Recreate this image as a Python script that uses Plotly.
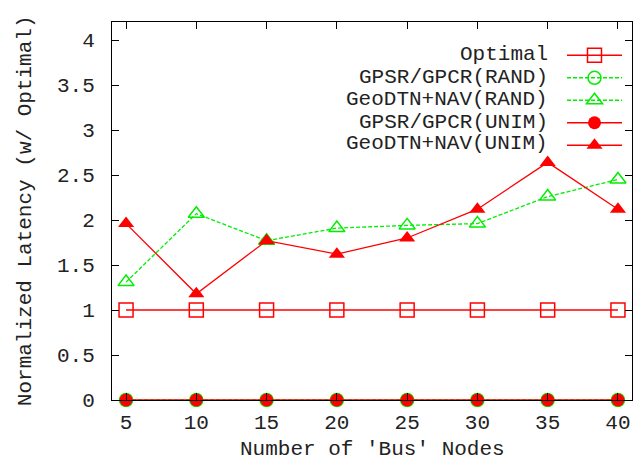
import plotly.graph_objects as go

nodes = [5, 10, 15, 20, 25, 30, 35, 40]
optimal = [1, 1, 1, 1, 1, 1, 1, 1]
gpsr_rand = [0, 0, 0, 0, 0, 0, 0, 0]
geodtn_rand = [1.31, 2.07, 1.77, 1.91, 1.94, 1.96, 2.26, 2.45]
gpsr_unim = [0, 0, 0, 0, 0, 0, 0, 0]
geodtn_unim = [1.96, 1.18, 1.77, 1.62, 1.80, 2.12, 2.64, 2.12]

names = ["Optimal", "GPSR/GPCR(RAND)", "GeoDTN+NAV(RAND)",
         "GPSR/GPCR(UNIM)", "GeoDTN+NAV(UNIM)"]

RED = "#ff0000"
GREEN = "#00ee00"
FONT = "Liberation Mono"
TEXT = "#222222"

fig = go.Figure()

fig.add_trace(go.Scatter(
    x=nodes, y=optimal, mode="lines+markers", name="",
    line=dict(color=RED, width=1.3),
    marker=dict(symbol="square-open", size=14, color=RED, line=dict(width=1.5)),
    cliponaxis=False
))
fig.add_trace(go.Scatter(
    x=nodes, y=gpsr_rand, mode="lines+markers", name="",
    line=dict(color=GREEN, width=1.3, dash="4px,2px"),
    marker=dict(symbol="circle-open", size=13, color=GREEN, line=dict(width=1.5)),
    cliponaxis=False
))
fig.add_trace(go.Scatter(
    x=nodes, y=geodtn_rand, mode="lines+markers", name="",
    line=dict(color=GREEN, width=1.3, dash="4px,2px"),
    marker=dict(symbol="triangle-up-open", size=14, color=GREEN, line=dict(width=1.5)),
    cliponaxis=False
))
fig.add_trace(go.Scatter(
    x=nodes, y=gpsr_unim, mode="lines+markers", name="",
    line=dict(color=RED, width=1.3),
    marker=dict(symbol="circle", size=13, color=RED),
    cliponaxis=False
))
fig.add_trace(go.Scatter(
    x=nodes, y=geodtn_unim, mode="lines+markers", name="",
    line=dict(color=RED, width=1.3),
    marker=dict(symbol="triangle-up", size=14, color=RED),
    cliponaxis=False
))

# legend text goes left of the samples, gnuplot style
rows = [0.915, 0.854, 0.796, 0.735, 0.678]
for name, y in zip(names, rows):
    fig.add_annotation(
        x=0.843, y=y, xref="paper", yref="paper", text=name,
        xanchor="right", yanchor="middle", showarrow=False,
        font=dict(family=FONT, size=21, color=TEXT)
    )

# axis titles
fig.add_annotation(
    x=0.5, y=-0.13, xref="paper", yref="paper",
    text="Number of 'Bus' Nodes", showarrow=False,
    xanchor="center", yanchor="middle",
    font=dict(family=FONT, size=21, color=TEXT)
)
fig.add_annotation(
    x=-0.167, y=0.5, xref="paper", yref="paper",
    text="Normalized Latency (w/ Optimal)", showarrow=False, textangle=-90,
    xanchor="center", yanchor="middle",
    font=dict(family=FONT, size=21, color=TEXT)
)

fig.update_layout(
    width=625,
    height=449,
    plot_bgcolor="white",
    paper_bgcolor="white",
    font=dict(family=FONT, size=21, color=TEXT),
    margin=dict(l=104, r=1, t=14, b=57, autoexpand=False),
    showlegend=True,
    legend=dict(
        x=1.0, y=0.955, xanchor="right", yanchor="top",
        bgcolor="rgba(0,0,0,0)", borderwidth=0,
        itemwidth=55, tracegroupgap=0,
        font=dict(family=FONT, size=15)
    ),
    xaxis=dict(
        range=[4, 41], tickvals=nodes, automargin=False,
        showline=True, linecolor="black", linewidth=1, mirror="ticks",
        ticks="inside", ticklen=7, tickcolor="black", ticklabelstandoff=3,
        showgrid=False, zeroline=False
    ),
    yaxis=dict(
        range=[0, 4.2], tickvals=[0, 0.5, 1, 1.5, 2, 2.5, 3, 3.5, 4],
        ticktext=["0", "0.5", "1", "1.5", "2", "2.5", "3", "3.5", "4"],
        automargin=False,
        showline=True, linecolor="black", linewidth=1, mirror="ticks",
        ticks="inside", ticklen=7, tickcolor="black", ticklabelstandoff=12,
        showgrid=False, zeroline=False
    )
)

fig.write_html("out.html")
